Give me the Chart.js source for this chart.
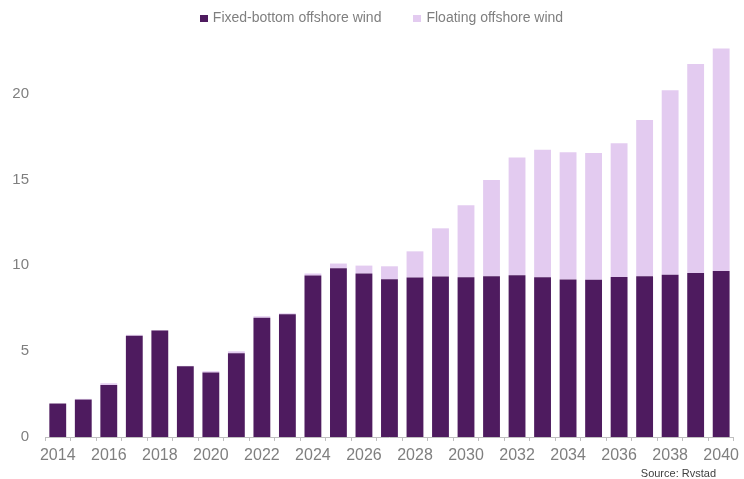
<!DOCTYPE html>
<html>
<head>
<meta charset="utf-8">
<script src="https://cdn.jsdelivr.net/npm/chart.js@4/dist/chart.umd.min.js"></script>
<style>
	html, body { margin: 0; padding: 0; background: #fff; }
	#wrap { position: relative; width: 744px; height: 479px; }
	#legend { position: absolute; left: 0; top: 10px; width: 744px; padding-left: 19px; box-sizing: border-box;
		text-align: center; font: 14px/14px "Liberation Sans", Arial, sans-serif; color: #7f7f7f; white-space: nowrap; }
	#legend .item { display: inline-block; margin: 0 16px; }
	#legend .box { display: inline-block; width: 8px; height: 7px; margin-right: 5px; vertical-align: 0; }
	#source { position: absolute; right: 28px; top: 467px; font: 11px "Liberation Sans", Arial, sans-serif; color: #404040; }
</style>
</head>
<body>
<div id="wrap">
	<canvas id="statBar" width="744" height="479"></canvas>
	<div id="legend"></div>
	<div id="source">Source: Rvstad</div>
</div>
<script>
	var years = ['2014', '2015', '2016', '2017', '2018', '2019', '2020', '2021', '2022', '2023', '2024', '2025', '2026', '2027',
		'2028', '2029', '2030', '2031', '2032', '2033', '2034', '2035', '2036', '2037', '2038', '2039', '2040'];
	var fixedBottom = [1.95, 2.18, 3.03, 5.9, 6.2, 4.12, 3.75, 4.87, 6.95, 7.15, 9.4, 9.83, 9.52, 9.18,
		9.28, 9.34, 9.3, 9.36, 9.42, 9.3, 9.17, 9.15, 9.32, 9.36, 9.44, 9.55, 9.67];
	var floating = [0, 0.04, 0.1, 0.05, 0.03, 0.02, 0.08, 0.12, 0.08, 0.05, 0.12, 0.27, 0.46, 0.76,
		1.53, 2.81, 4.19, 5.61, 6.85, 7.42, 7.41, 7.39, 7.78, 9.1, 10.75, 12.17, 12.95];
	var yTicks = [0, 5, 10, 15, 20];

	var fontFam = '"Liberation Sans", Arial, sans-serif';

	var ctx = document.getElementById('statBar').getContext('2d');
	var barChart = new Chart(ctx, {
		type: 'bar',
		data: {
			labels: years,
			datasets: [{
				label: 'Fixed-bottom offshore wind',
				data: fixedBottom,
				backgroundColor: '#4e1b5f',
				categoryPercentage: 1,
				barPercentage: 0.66
			}, {
				label: 'Floating offshore wind',
				data: floating,
				backgroundColor: '#e3cbf0',
				categoryPercentage: 1,
				barPercentage: 0.66
			}]
		},
		options: {
			responsive: false,
			animation: false,
			layout: { padding: { left: 0, right: 2, top: 48, bottom: 0 } },
			plugins: {
				legend: { display: false },
				tooltip: { enabled: false }
			},
			scales: {
				x: {
					stacked: true,
					afterFit: function(s){ s.height = 42; },
					grid: {
						display: true,
						drawOnChartArea: false,
						drawTicks: true,
						tickLength: 4,
						offset: true,
						color: '#bfbfbf'
					},
					border: { display: true, color: '#bfbfbf' },
					ticks: {
						autoSkip: false,
						maxRotation: 0,
						padding: 5,
						color: '#7f7f7f',
						font: { family: fontFam, size: 16 },
						callback: function(v, i){ return i % 2 === 0 ? years[i] : ''; }
					}
				},
				y: {
					stacked: true,
					min: 0,
					max: 22.65,
					afterFit: function(s){ s.width = 45; },
					afterBuildTicks: function(s){
						s.ticks = yTicks.map(function(v){ return { value: v }; });
					},
					grid: { display: false, drawTicks: false },
					border: { display: false },
					ticks: {
						padding: 16,
						color: '#7f7f7f',
						font: { family: fontFam, size: 15 }
					}
				}
			}
		}
	});

	// html legend built from the datasets
	var legendEl = document.getElementById('legend');
	barChart.data.datasets.forEach(function(ds){
		legendEl.innerHTML += '<span class="item"><span class="box" style="background:' + ds.backgroundColor + '"></span>' + ds.label + '</span>';
	});
</script>
</body>
</html>
